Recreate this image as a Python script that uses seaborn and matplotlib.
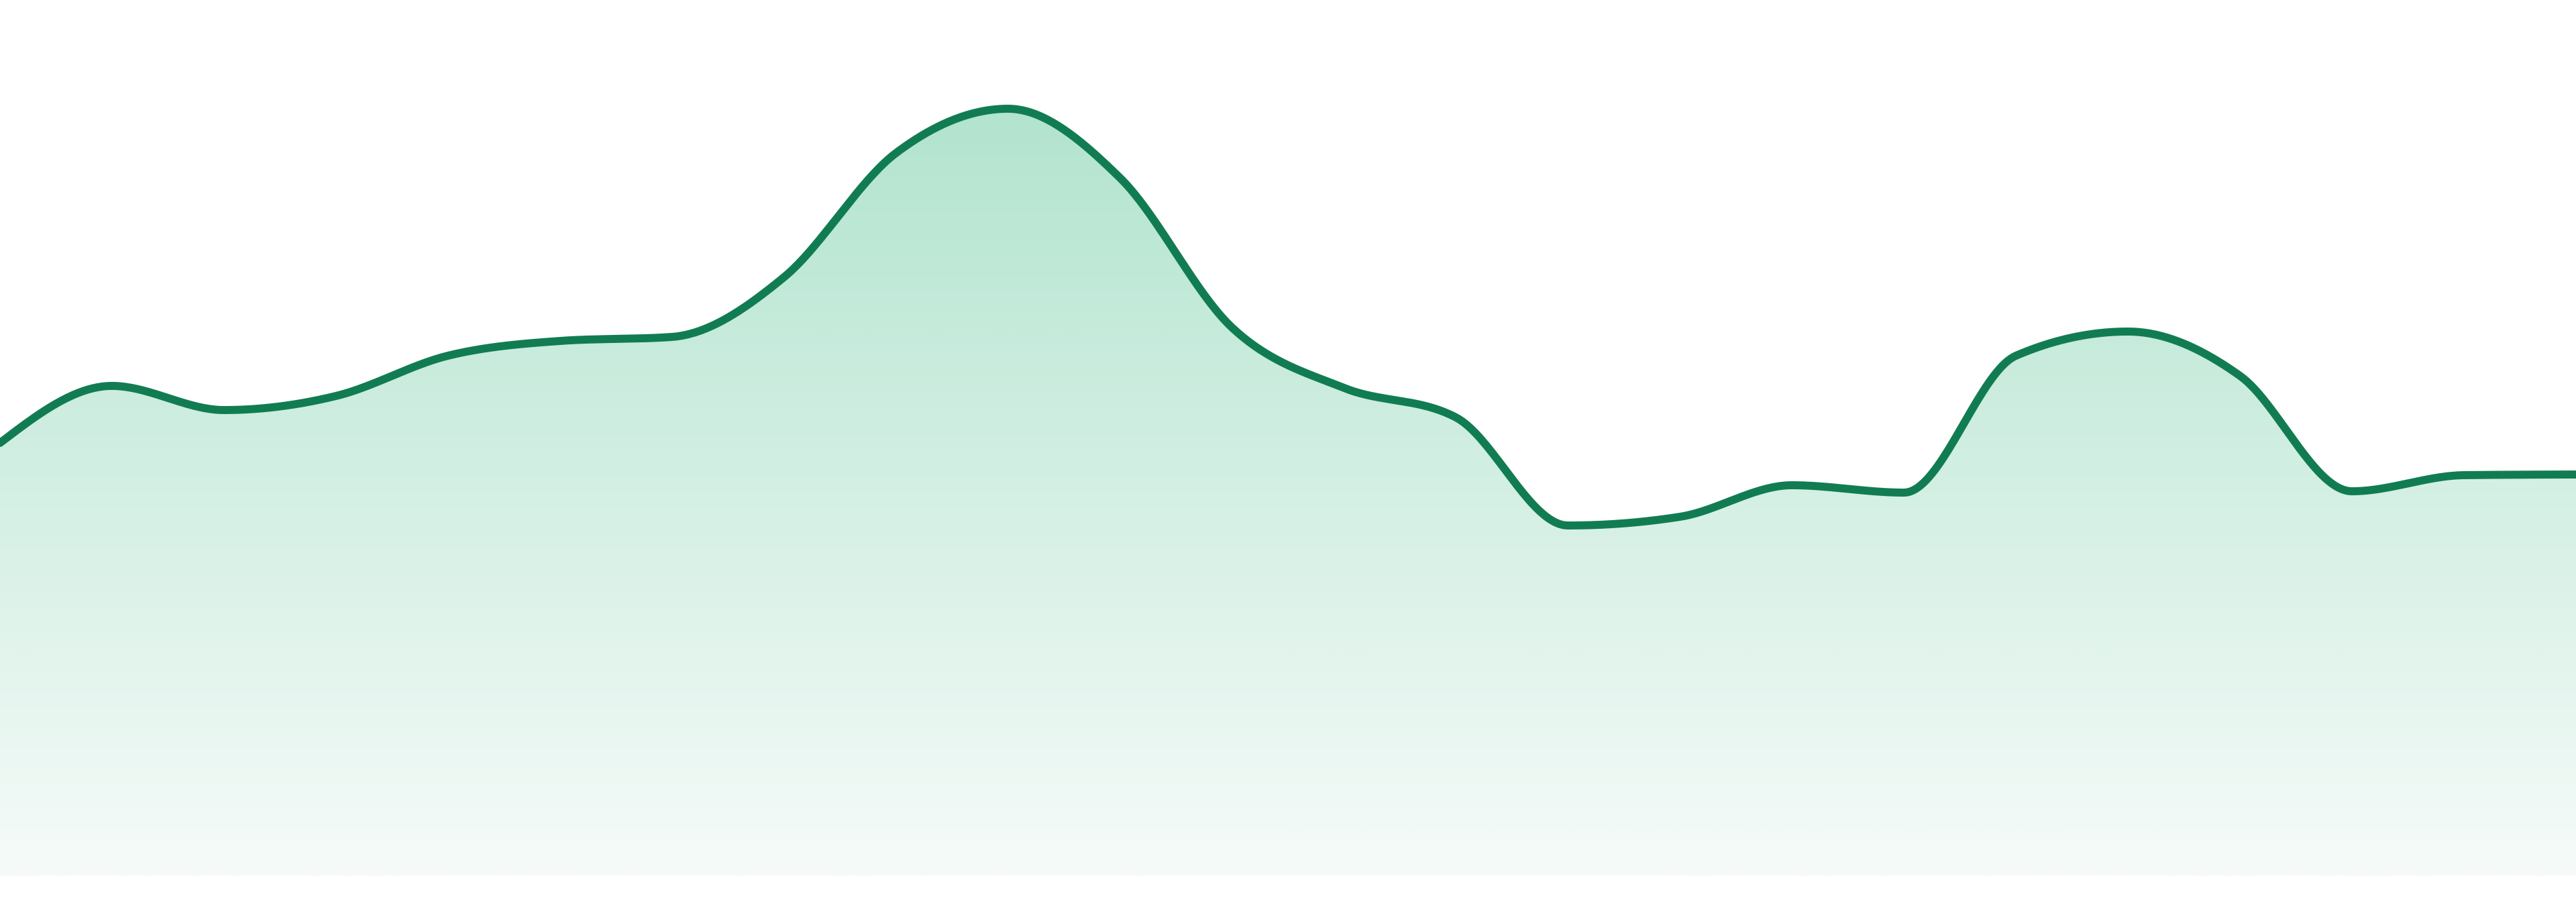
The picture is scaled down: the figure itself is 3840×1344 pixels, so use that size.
import numpy as np
import pandas as pd
import matplotlib
matplotlib.use("Agg")
import matplotlib.pyplot as plt
import seaborn as sns
from matplotlib.colors import LinearSegmentedColormap

# Values (24 evenly spaced samples)
slots = list(range(24))
values = [64.5, 73.0, 69.4, 71.5, 77.5, 79.7, 80.3, 89.2, 107.7, 114.3, 104.0, 81.7,
          72.7, 68.3, 52.2, 53.5, 58.2, 57.1, 77.5, 81.1, 74.5, 57.3, 59.7, 59.8]

LINE_COLOR = "#117c52"
FILL_TOP = (178 / 255, 228 / 255, 207 / 255)
FILL_BOTTOM = (246 / 255, 251 / 255, 249 / 255)
Y_MAX = 130.5


def monotone_curve(x, y, steps=40):
    """Monotone cubic curve through the points (same idea as d3.curveMonotoneX)."""
    x = np.asarray(x, dtype=float)
    y = np.asarray(y, dtype=float)
    h = np.diff(x)
    s = np.diff(y) / h
    t = np.zeros_like(y)
    for i in range(1, len(y) - 1):
        p = (s[i - 1] * h[i] + s[i] * h[i - 1]) / (h[i - 1] + h[i])
        t[i] = (np.sign(s[i - 1]) + np.sign(s[i])) * min(abs(s[i - 1]), abs(s[i]), 0.5 * abs(p))
    t[0] = (3 * s[0] - t[1]) / 2
    t[-1] = (3 * s[-1] - t[-2]) / 2

    xs, ys = [], []
    for i in range(len(y) - 1):
        u = np.linspace(0, 1, steps, endpoint=(i == len(y) - 2))
        h00 = 2 * u**3 - 3 * u**2 + 1
        h10 = u**3 - 2 * u**2 + u
        h01 = -2 * u**3 + 3 * u**2
        h11 = u**3 - u**2
        xs.append(x[i] + u * h[i])
        ys.append(h00 * y[i] + h10 * h[i] * t[i] + h01 * y[i + 1] + h11 * h[i] * t[i + 1])
    return np.concatenate(xs), np.concatenate(ys)


sns.set_theme(style="white")

fig = plt.figure(figsize=(19.2, 6.72), dpi=200)
fig.patch.set_facecolor("white")
ax = fig.add_axes([0, 39 / 1344, 1, 1305 / 1344])
ax.set_facecolor("white")

cx, cy = monotone_curve(slots, values)
curve = pd.DataFrame({"slot": cx, "value": cy})

# gradient area under the curve
fill = ax.fill_between(curve["slot"], curve["value"], 0, color="none", lw=0)
cmap = LinearSegmentedColormap.from_list("area", [FILL_BOTTOM, FILL_TOP])
grad = np.linspace(0, 1, 512).reshape(-1, 1)
im = ax.imshow(grad, cmap=cmap, origin="lower", aspect="auto",
               extent=[slots[0], slots[-1], 0, max(values)], zorder=1)
im.set_clip_path(fill.get_paths()[0], transform=ax.transData)

sns.lineplot(data=curve, x="slot", y="value", color=LINE_COLOR, linewidth=4.3,
             estimator=None, sort=False, ax=ax, zorder=3)
for line in ax.lines:
    line.set_linewidth(4.3)
    line.set_solid_capstyle("round")
    line.set_solid_joinstyle("round")

ax.set_xlim(slots[0], slots[-1])
ax.set_ylim(0, Y_MAX)
ax.set_axis_off()

fig.savefig("out.png", dpi=200, facecolor="white")
